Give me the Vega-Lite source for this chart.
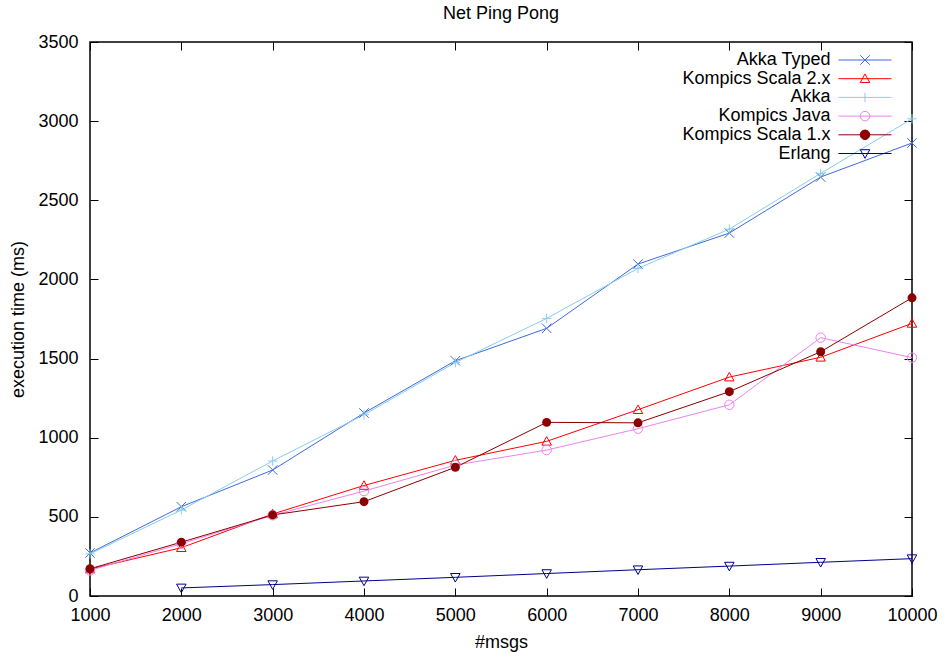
{
  "$schema": "https://vega.github.io/schema/vega-lite/v6.json",
  "width": 822,
  "height": 554,
  "autosize": {"type": "none"},
  "padding": {"left": 90, "top": 42, "right": 33, "bottom": 57},
  "background": "white",
  "title": {"text": "Net Ping Pong", "fontSize": 18, "fontWeight": "normal", "font": "Liberation Sans", "color": "black", "frame": "group", "anchor": "middle", "baseline": "alphabetic", "offset": -4},
  "data": {"values": [
    {"series": "Akka Typed", "msgs": 1000, "time": 272},
    {"series": "Akka Typed", "msgs": 2000, "time": 564},
    {"series": "Akka Typed", "msgs": 3000, "time": 796},
    {"series": "Akka Typed", "msgs": 4000, "time": 1156},
    {"series": "Akka Typed", "msgs": 5000, "time": 1486},
    {"series": "Akka Typed", "msgs": 6000, "time": 1691},
    {"series": "Akka Typed", "msgs": 7000, "time": 2097},
    {"series": "Akka Typed", "msgs": 8000, "time": 2293},
    {"series": "Akka Typed", "msgs": 9000, "time": 2647},
    {"series": "Akka Typed", "msgs": 10000, "time": 2862},
    {"series": "Kompics Scala 2.x", "msgs": 1000, "time": 170},
    {"series": "Kompics Scala 2.x", "msgs": 2000, "time": 305},
    {"series": "Kompics Scala 2.x", "msgs": 3000, "time": 518},
    {"series": "Kompics Scala 2.x", "msgs": 4000, "time": 698},
    {"series": "Kompics Scala 2.x", "msgs": 5000, "time": 857},
    {"series": "Kompics Scala 2.x", "msgs": 6000, "time": 977},
    {"series": "Kompics Scala 2.x", "msgs": 7000, "time": 1177},
    {"series": "Kompics Scala 2.x", "msgs": 8000, "time": 1383},
    {"series": "Kompics Scala 2.x", "msgs": 9000, "time": 1508},
    {"series": "Kompics Scala 2.x", "msgs": 10000, "time": 1722},
    {"series": "Akka", "msgs": 1000, "time": 266},
    {"series": "Akka", "msgs": 2000, "time": 543},
    {"series": "Akka", "msgs": 3000, "time": 853},
    {"series": "Akka", "msgs": 4000, "time": 1145},
    {"series": "Akka", "msgs": 5000, "time": 1475},
    {"series": "Akka", "msgs": 6000, "time": 1754},
    {"series": "Akka", "msgs": 7000, "time": 2070},
    {"series": "Akka", "msgs": 8000, "time": 2318},
    {"series": "Akka", "msgs": 9000, "time": 2670},
    {"series": "Akka", "msgs": 10000, "time": 3015},
    {"series": "Kompics Java", "msgs": 1000, "time": 162},
    {"series": "Kompics Java", "msgs": 2000, "time": 330},
    {"series": "Kompics Java", "msgs": 3000, "time": 510},
    {"series": "Kompics Java", "msgs": 4000, "time": 663},
    {"series": "Kompics Java", "msgs": 5000, "time": 827},
    {"series": "Kompics Java", "msgs": 6000, "time": 922},
    {"series": "Kompics Java", "msgs": 7000, "time": 1057},
    {"series": "Kompics Java", "msgs": 8000, "time": 1208},
    {"series": "Kompics Java", "msgs": 9000, "time": 1632},
    {"series": "Kompics Java", "msgs": 10000, "time": 1506},
    {"series": "Kompics Scala 1.x", "msgs": 1000, "time": 172},
    {"series": "Kompics Scala 1.x", "msgs": 2000, "time": 340},
    {"series": "Kompics Scala 1.x", "msgs": 3000, "time": 512},
    {"series": "Kompics Scala 1.x", "msgs": 4000, "time": 596},
    {"series": "Kompics Scala 1.x", "msgs": 5000, "time": 813},
    {"series": "Kompics Scala 1.x", "msgs": 6000, "time": 1097},
    {"series": "Kompics Scala 1.x", "msgs": 7000, "time": 1094},
    {"series": "Kompics Scala 1.x", "msgs": 8000, "time": 1291},
    {"series": "Kompics Scala 1.x", "msgs": 9000, "time": 1543},
    {"series": "Kompics Scala 1.x", "msgs": 10000, "time": 1884},
    {"series": "Erlang", "msgs": 2000, "time": 51},
    {"series": "Erlang", "msgs": 3000, "time": 72},
    {"series": "Erlang", "msgs": 4000, "time": 95},
    {"series": "Erlang", "msgs": 5000, "time": 118},
    {"series": "Erlang", "msgs": 6000, "time": 142},
    {"series": "Erlang", "msgs": 7000, "time": 166},
    {"series": "Erlang", "msgs": 8000, "time": 189},
    {"series": "Erlang", "msgs": 9000, "time": 213},
    {"series": "Erlang", "msgs": 10000, "time": 236}
  ]},
  "layer": [
    {
      "mark": {"type": "line", "strokeWidth": 1},
      "encoding": {
        "x": {"field": "msgs", "type": "quantitative", "scale": {"domain": [1000, 10000], "nice": false, "zero": false},
              "axis": {"orient": "bottom", "title": "#msgs", "values": [1000,2000,3000,4000,5000,6000,7000,8000,9000,10000], "format": "d", "labelPadding": 18, "titlePadding": 9, "labelFlush": false}},
        "y": {"field": "time", "type": "quantitative", "scale": {"domain": [0, 3500], "nice": false},
              "axis": {"orient": "left", "title": "execution time (ms)", "values": [0,500,1000,1500,2000,2500,3000,3500], "format": "d", "labelPadding": 20, "titlePadding": 10, "labelFlush": false}},
        "color": {"field": "series", "type": "nominal",
                  "scale": {"domain": ["Akka Typed", "Kompics Scala 2.x", "Akka", "Kompics Java", "Kompics Scala 1.x", "Erlang"],
                            "range": ["#4169e1", "#ff0000", "#87ceeb", "#ee82ee", "#8b0000", "#00008b"]},
                  "legend": {"orient": "none", "legendX": 766, "legendY": 9, "title": null, "labelAlign": "right", "labelOffset": -43.5,
                             "labelFontSize": 18, "labelColor": "black", "labelFont": "Liberation Sans", "labelLimit": 400,
                             "symbolSize": 90, "symbolStrokeWidth": 1, "rowPadding": 0.7, "padding": 0,
                             "encode": {"symbols": {"update": {
                               "shape": {"signal": "datum.value === 'Akka Typed' ? 'M-5.6,0L5.6,0M-1,-1L1,1M-1,1L1,-1' : datum.value === 'Kompics Scala 2.x' ? 'M-5.6,0L5.6,0M0,-1L1,0.8L-1,0.8Z' : datum.value === 'Akka' ? 'M-5.6,0L5.6,0M0,-1L0,1' : datum.value === 'Erlang' ? 'M-5.6,0L5.6,0M0,1L1,-0.8L-1,-0.8Z' : 'M-5.6,0L5.6,0M1,0A1,1,0,1,1,-1,0A1,1,0,1,1,1,0Z'"},
                               "fill": {"signal": "datum.value === 'Kompics Scala 1.x' ? '#8b0000' : 'transparent'"},
                               "fillOpacity": {"signal": "datum.value === 'Kompics Scala 1.x' ? 1 : 0"},
                               "stroke": {"signal": "scale('color', datum.value)"},
                               "strokeWidth": {"value": 1},
                               "opacity": {"value": 1}
                             }}}}}
      }
    },
    {
      "transform": [{"filter": "datum.series !== 'Kompics Scala 1.x'"}],
      "mark": {"type": "point", "filled": false, "size": 90, "strokeWidth": 1, "opacity": 1},
      "encoding": {
        "x": {"field": "msgs", "type": "quantitative", "axis": null},
        "y": {"field": "time", "type": "quantitative", "axis": null},
        "color": {"field": "series", "type": "nominal", "legend": null},
        "shape": {"field": "series", "type": "nominal", "legend": null,
                  "scale": {"domain": ["Akka Typed", "Kompics Scala 2.x", "Akka", "Kompics Java", "Erlang"],
                            "range": ["M-1,-1L1,1M-1,1L1,-1", "M0,-1L1,0.8L-1,0.8Z", "M-1,0L1,0M0,-1L0,1", "circle", "M0,1L1,-0.8L-1,-0.8Z"]}}
      }
    },
    {
      "transform": [{"filter": "datum.series === 'Kompics Scala 1.x'"}],
      "mark": {"type": "point", "filled": true, "shape": "circle", "size": 80, "opacity": 1},
      "encoding": {
        "x": {"field": "msgs", "type": "quantitative", "axis": null},
        "y": {"field": "time", "type": "quantitative", "axis": null},
        "color": {"field": "series", "type": "nominal", "legend": null}
      }
    },
    {
      "mark": {"type": "point", "opacity": 0},
      "encoding": {
        "x": {"field": "msgs", "type": "quantitative",
              "axis": {"orient": "top", "title": null, "labels": false, "values": [1000,2000,3000,4000,5000,6000,7000,8000,9000,10000]}},
        "y": {"field": "time", "type": "quantitative",
              "axis": {"orient": "right", "title": null, "labels": false, "values": [0,500,1000,1500,2000,2500,3000,3500]}}
      }
    }
  ],
  "resolve": {"axis": {"x": "independent", "y": "independent"}},
  "config": {
    "font": "Liberation Sans",
    "view": {"stroke": "black", "strokeWidth": 1.5},
    "axis": {"domain": false, "grid": false, "tickColor": "black", "tickSize": -8, "tickWidth": 1,
             "labelFontSize": 18, "labelColor": "black", "labelFont": "Liberation Sans",
             "titleFontSize": 18, "titleFontWeight": "normal", "titleColor": "black", "titleFont": "Liberation Sans"}
  }
}
